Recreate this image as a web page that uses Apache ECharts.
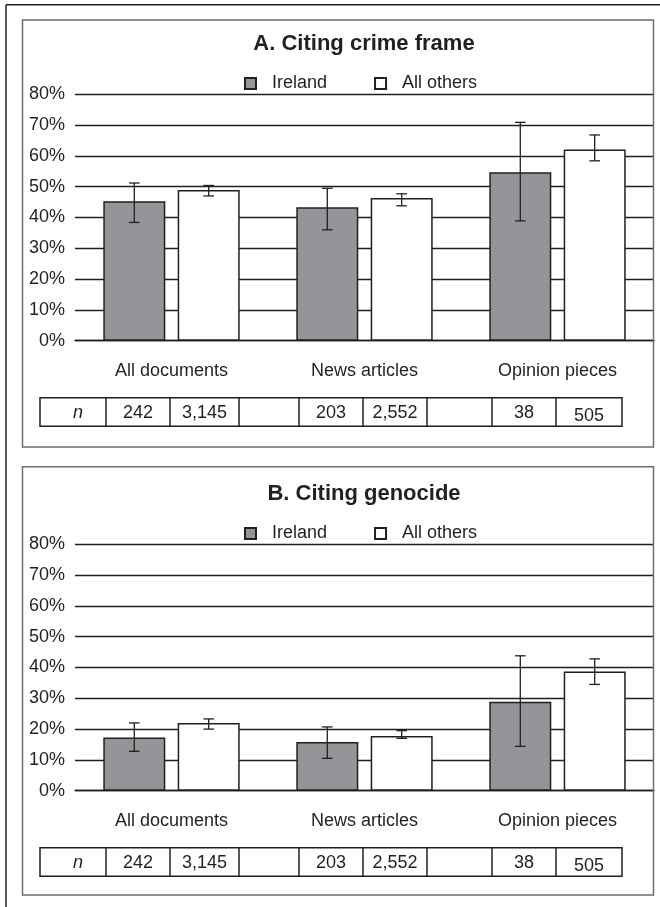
<!DOCTYPE html>
<html>
<head>
<meta charset="utf-8">
<script src="https://cdn.jsdelivr.net/npm/echarts@6/dist/echarts.min.js"></script>
<style>
html,body{margin:0;padding:0;background:#fff;}
#chart{width:660px;height:907px;}
</style>
</head>
<body>
<div id="chart"></div>
<script>
// ---------- data ----------
const categories = ['All documents', 'News articles', 'Opinion pieces'];
const seriesNames = ['Ireland', 'All others'];
const yTickValues = [0, 10, 20, 30, 40, 50, 60, 70, 80];

// Panel A: citing crime frame (%)
const crimeIreland = [45.3, 43.3, 54.7];
const crimeIrelandLow = [38.4, 36.0, 38.9];
const crimeIrelandHigh = [51.2, 49.5, 70.9];
const crimeOthers = [48.9, 46.3, 62.1];
const crimeOthersLow = [47.0, 43.8, 58.4];
const crimeOthersHigh = [50.4, 47.7, 66.8];

// Panel B: citing genocide (%)
const genoIreland = [17.3, 15.8, 28.9];
const genoIrelandLow = [12.8, 10.5, 14.4];
const genoIrelandHigh = [22.0, 20.7, 43.8];
const genoOthers = [22.0, 17.8, 38.7];
const genoOthersLow = [20.0, 17.0, 34.5];
const genoOthersHigh = [23.3, 19.5, 42.8];

// sample sizes
const nIreland = [242, 203, 38];
const nOthers = [3145, 2552, 505];

const panelTitles = ['A. Citing crime frame', 'B. Citing genocide'];

// ---------- style / layout ----------
const FONT = "'Liberation Sans', Arial, Helvetica, sans-serif";
const INK = '#231f20';
const GREY = '#939598';
const FS = 18;
const BAR_W = 62;
const BAR_GAP = 0.2;
const OFFSET = (BAR_W + BAR_W * BAR_GAP) / 2;
const panelDY = [0, 450];
const gridTop = 94.3, gridH = 246.4, gridLeft = 75, gridRight = 6;
const tableEdges = [40, 106, 170, 239, 299, 363, 427, 492, 556, 622];
const tableTop = 397.7, tableH = 28.6;

const chart = echarts.init(document.getElementById('chart'));

function fmt(v){ return v.toLocaleString('en-US'); }

const panels = [
  {ire: crimeIreland, ireLo: crimeIrelandLow, ireHi: crimeIrelandHigh,
   oth: crimeOthers, othLo: crimeOthersLow, othHi: crimeOthersHigh},
  {ire: genoIreland, ireLo: genoIrelandLow, ireHi: genoIrelandHigh,
   oth: genoOthers, othLo: genoOthersLow, othHi: genoOthersHigh}
];

const grids = [], xAxes = [], yAxes = [], series = [], legends = [], graphics = [];

function errorSeries(gi, lo, hi, dx){
  return {
    type: 'custom', xAxisIndex: gi, yAxisIndex: gi, z: 10, silent: true,
    data: categories.map((c, i) => [i, lo[i], hi[i]]),
    renderItem: function(params, api){
      const p1 = api.coord([api.value(0), api.value(1)]);
      const p2 = api.coord([api.value(0), api.value(2)]);
      const x = p1[0] + dx;
      const cw = 5.3;
      const st = {stroke: INK, lineWidth: 1.3};
      return {type: 'group', children: [
        {type: 'line', shape: {x1: x, y1: p1[1], x2: x, y2: p2[1]}, style: st},
        {type: 'line', shape: {x1: x - cw, y1: p1[1], x2: x + cw, y2: p1[1]}, style: st},
        {type: 'line', shape: {x1: x - cw, y1: p2[1], x2: x + cw, y2: p2[1]}, style: st}
      ]};
    }
  };
}

panels.forEach((p, gi) => {
  const dy = panelDY[gi];
  grids.push({left: gridLeft, right: gridRight, top: gridTop + dy, height: gridH, containLabel: false});
  xAxes.push({
    type: 'category', gridIndex: gi, data: categories,
    axisTick: {show: false},
    axisLine: {show: true, lineStyle: {color: INK, width: 1.3}},
    axisLabel: {color: INK, fontFamily: FONT, fontSize: FS, margin: 21}
  });
  yAxes.push({
    type: 'value', gridIndex: gi, min: 0, max: 80, interval: 10,
    axisLine: {show: false}, axisTick: {show: false},
    axisLabel: {color: INK, fontFamily: FONT, fontSize: FS, margin: 10,
      formatter: v => yTickValues.indexOf(v) >= 0 ? v + '%' : ''},
    splitLine: {show: true, lineStyle: {color: INK, width: 1.3}}
  });
  series.push({
    name: seriesNames[0], type: 'bar', xAxisIndex: gi, yAxisIndex: gi,
    data: p.ire, barWidth: BAR_W, barGap: (BAR_GAP * 100) + '%',
    itemStyle: {color: GREY, borderColor: INK, borderWidth: 1.5}
  });
  series.push({
    name: seriesNames[1], type: 'bar', xAxisIndex: gi, yAxisIndex: gi,
    data: p.oth, barWidth: BAR_W, barGap: (BAR_GAP * 100) + '%',
    itemStyle: {color: '#ffffff', borderColor: INK, borderWidth: 1.5}
  });
  series.push(errorSeries(gi, p.ireLo, p.ireHi, -OFFSET));
  series.push(errorSeries(gi, p.othLo, p.othHi, OFFSET));

  legends.push({
    data: seriesNames, left: 239, top: 69.5 + dy, orient: 'horizontal',
    itemWidth: 11, itemHeight: 11, itemGap: 47, icon: 'rect',
    selectedMode: false,
    textStyle: {color: INK, fontFamily: FONT, fontSize: FS, padding: [0, 0, 0, 11]}
  });

  // panel frame
  graphics.push({type: 'rect', silent: true, z: 100,
    shape: gi === 0 ? {x: 22.5, y: 20, width: 631, height: 427}
                    : {x: 22.5, y: 466.7, width: 631, height: 428.3},
    style: {fill: null, stroke: '#6d6e70', lineWidth: 1.5}});
  // title
  graphics.push({type: 'text', silent: true, z: 100, x: 364, y: 43.5 + dy,
    style: {text: panelTitles[gi], fill: INK, font: 'bold 22px ' + FONT,
      textAlign: 'center', textVerticalAlign: 'middle'}});
  // n table
  const tTop = tableTop + dy;
  graphics.push({type: 'rect', silent: true, z: 100,
    shape: {x: tableEdges[0], y: tTop, width: tableEdges[tableEdges.length - 1] - tableEdges[0], height: tableH},
    style: {fill: null, stroke: INK, lineWidth: 1.5}});
  for (let k = 1; k < tableEdges.length - 1; k++) {
    graphics.push({type: 'line', silent: true, z: 100,
      shape: {x1: tableEdges[k], y1: tTop, x2: tableEdges[k], y2: tTop + tableH},
      style: {stroke: INK, lineWidth: 1.5}});
  }
  const cells = ['n'];
  categories.forEach((c, i) => {
    cells.push(fmt(nIreland[i]), fmt(nOthers[i]));
    if (i < categories.length - 1) cells.push('');
  });
  cells.forEach((t, k) => {
    if (!t) return;
    const cx = (tableEdges[k] + tableEdges[k + 1]) / 2 + (k === 0 ? 5 : 0);
    const extra = (t === '505') ? 3 : 0;
    graphics.push({type: 'text', silent: true, z: 101, x: cx, y: tTop + tableH / 2 + 1 + extra,
      style: {text: t, fill: INK, font: (k === 0 ? 'italic ' : '') + FS + 'px ' + FONT,
        textAlign: 'center', textVerticalAlign: 'middle'}});
  });
});

// outer figure frame (left and top edges)
graphics.push({type: 'line', silent: true, z: 100, shape: {x1: 6, y1: 4.7, x2: 6, y2: 907},
  style: {stroke: '#231f20', lineWidth: 1.5}});
graphics.push({type: 'line', silent: true, z: 100, shape: {x1: 6, y1: 4.7, x2: 660, y2: 4.7},
  style: {stroke: '#231f20', lineWidth: 1.5}});

chart.setOption({
  backgroundColor: '#ffffff',
  animation: false,
  textStyle: {fontFamily: FONT},
  grid: grids, xAxis: xAxes, yAxis: yAxes, series: series,
  legend: legends, graphic: graphics
});
</script>
</body>
</html>
